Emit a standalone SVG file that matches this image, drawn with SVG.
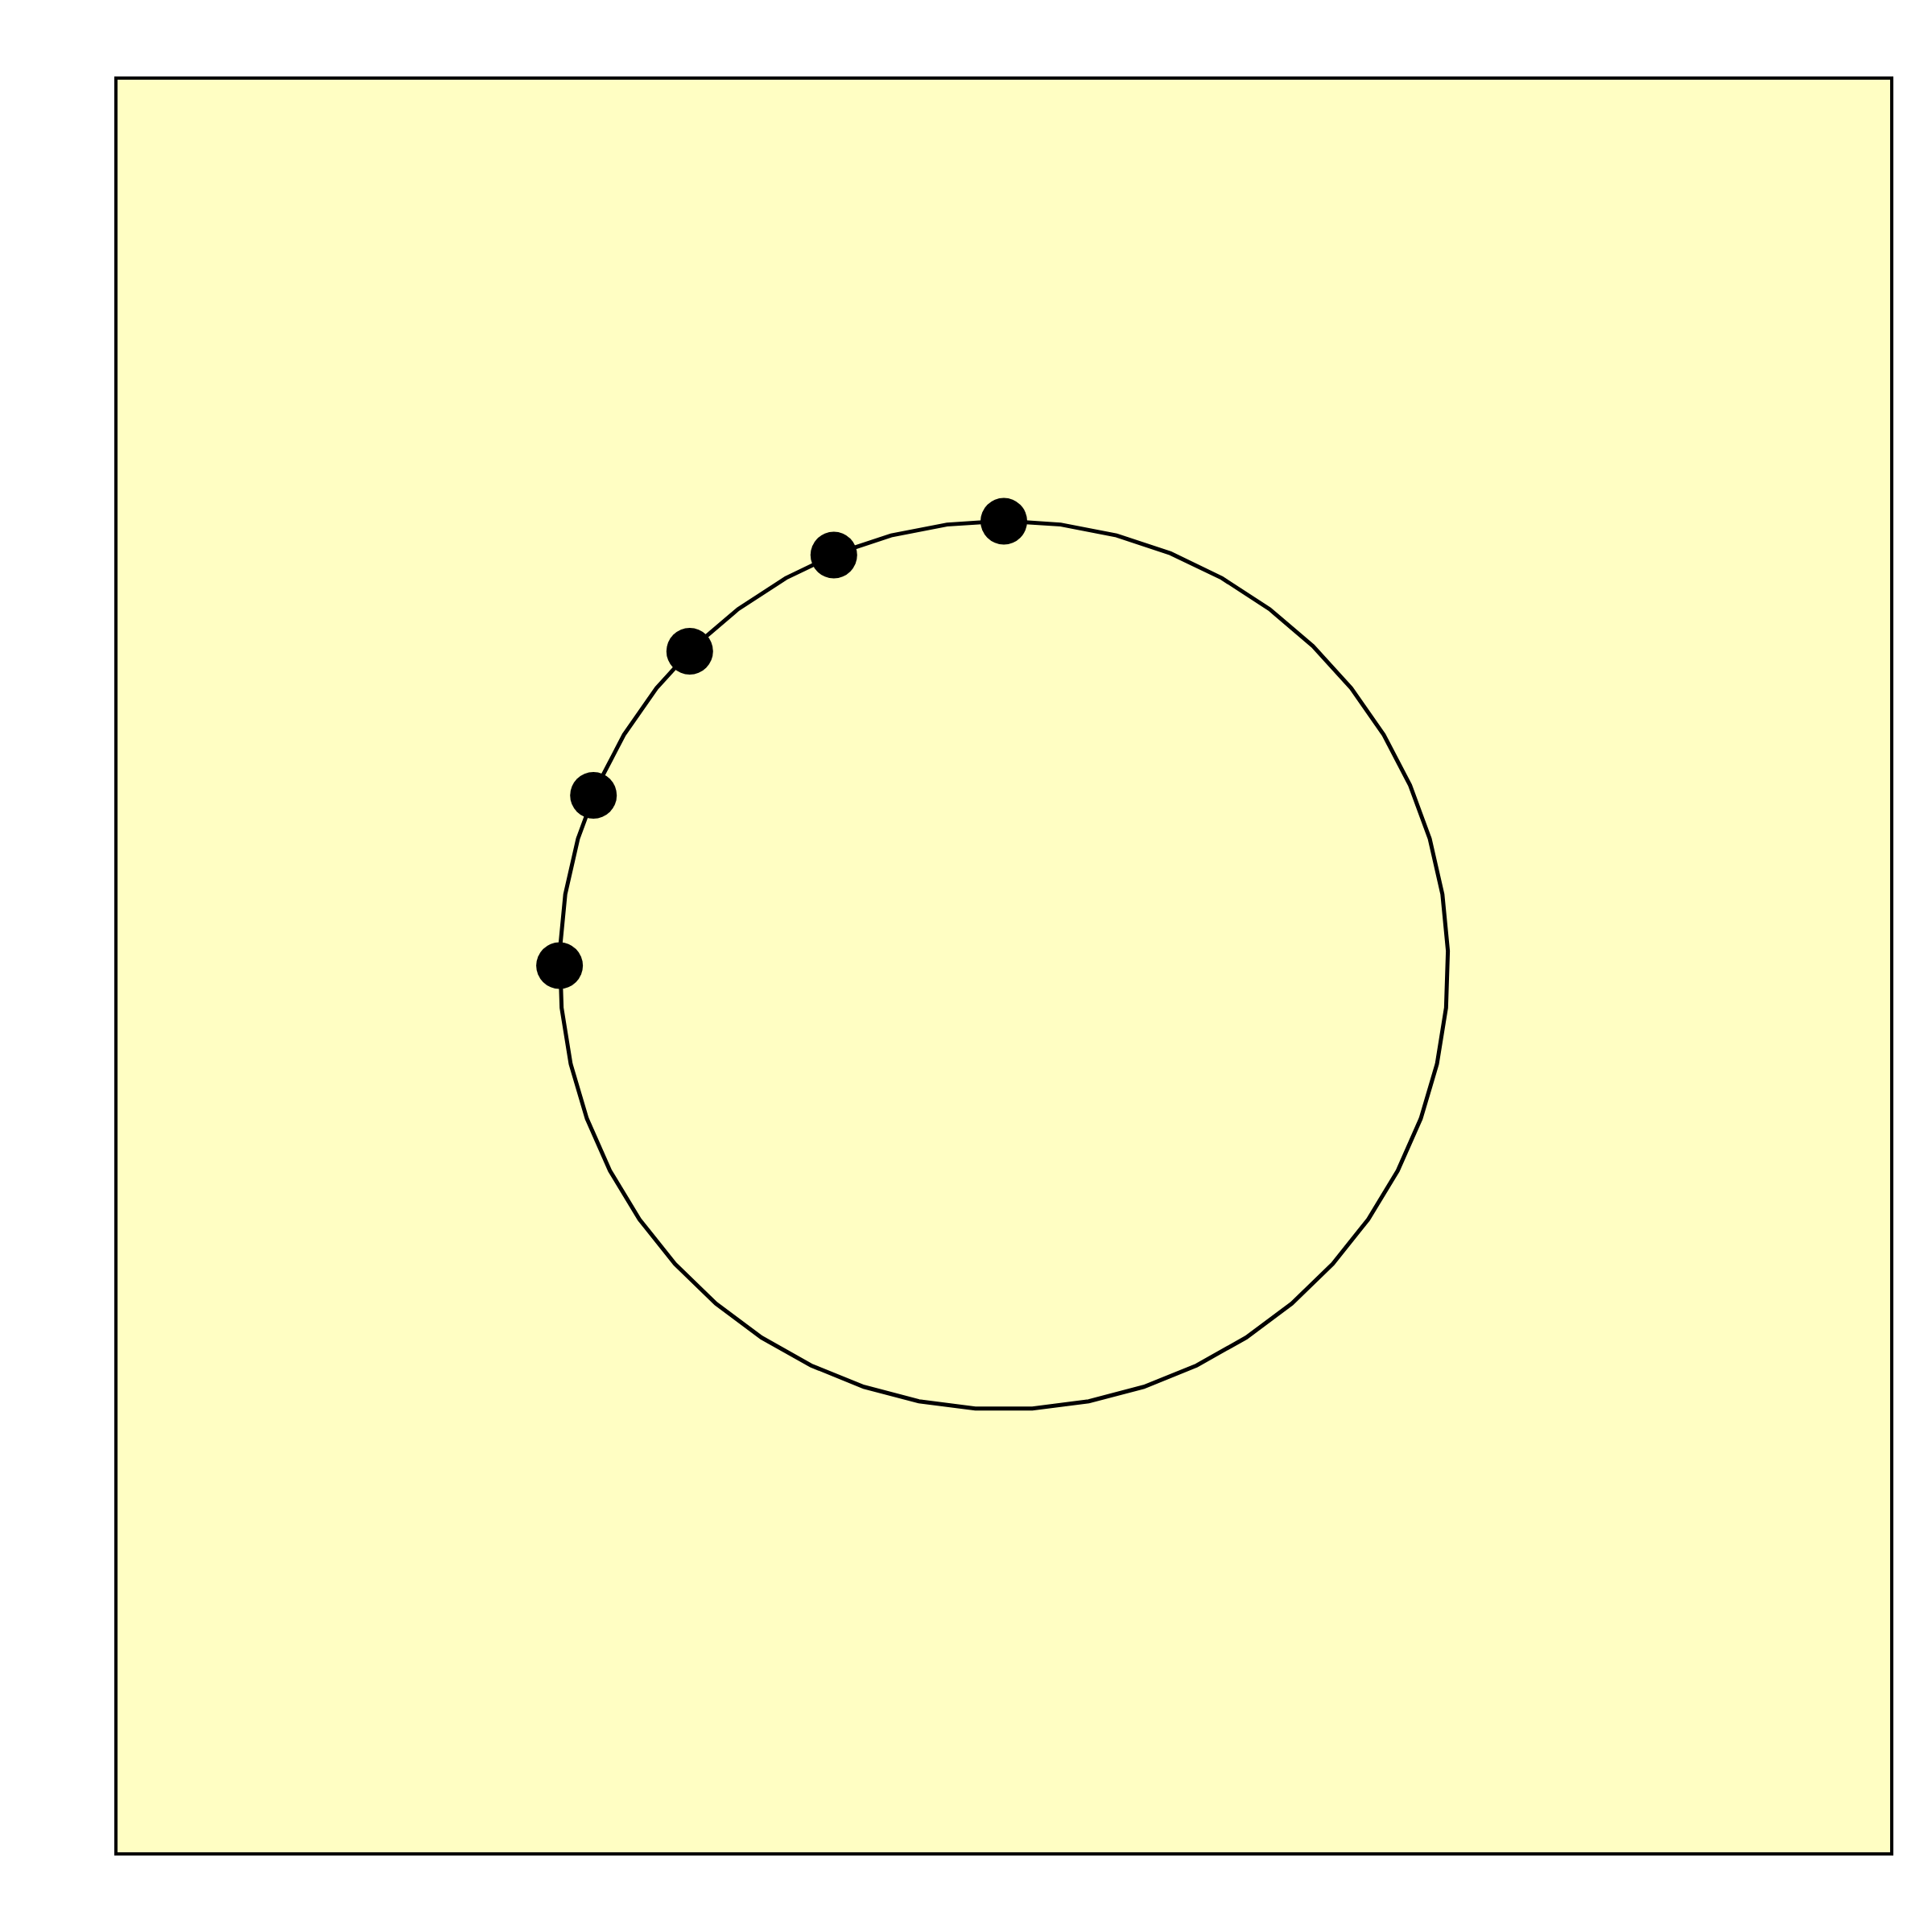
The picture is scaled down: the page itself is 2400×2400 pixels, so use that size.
<svg xmlns="http://www.w3.org/2000/svg" width="2400" height="2400" viewBox="0 0 2400 2400">
<style>
.frame{fill:#fffec3;stroke:#000;stroke-width:4}
.ring{fill:none;stroke:#000;stroke-width:5;stroke-linejoin:miter}
.dot{fill:#000;stroke:none}
</style>
<rect width="2400" height="2400" fill="#fff"/>
<rect id="frame" class="frame" x="144" y="97" width="2206" height="2206"/>
<g id="connectors">
<polygon class="ring" points="1247,647.1 1317.58,651.63 1386.99,665.15 1454.11,687.43 1517.83,718.12 1577.10,756.70 1630.95,802.54 1678.49,854.90 1718.95,912.90 1751.66,975.60 1776.09,1041.97 1791.82,1110.92 1798.62,1181.31 1796.35,1251.99 1785.06,1321.81 1764.94,1389.61 1736.31,1454.27 1699.65,1514.75 1655.56,1570.04 1604.75,1619.24 1548.08,1661.55 1486.46,1696.25 1420.91,1722.79 1352.50,1740.72 1282.36,1749.77 1211.64,1749.77 1141.50,1740.72 1073.09,1722.79 1007.54,1696.25 945.92,1661.55 889.25,1619.24 838.44,1570.04 794.35,1514.75 757.69,1454.27 729.06,1389.61 708.94,1321.81 697.65,1251.99 695.38,1181.31 702.18,1110.92 717.91,1041.97 742.34,975.60 775.05,912.90 815.51,854.90 863.05,802.54 916.90,756.70 976.17,718.12 1039.89,687.43 1107.01,665.15 1176.42,651.63"/>
</g>
<g id="node1"><circle class="dot" cx="1247" cy="647.5" r="29"/></g>
<g id="node2"><circle class="dot" cx="1035.8" cy="689.5" r="29"/></g>
<g id="node3"><circle class="dot" cx="856.8" cy="809" r="29"/></g>
<g id="node4"><circle class="dot" cx="737.2" cy="988" r="29"/></g>
<g id="node5"><circle class="dot" cx="695.1" cy="1199.5" r="29"/></g>
</svg>
